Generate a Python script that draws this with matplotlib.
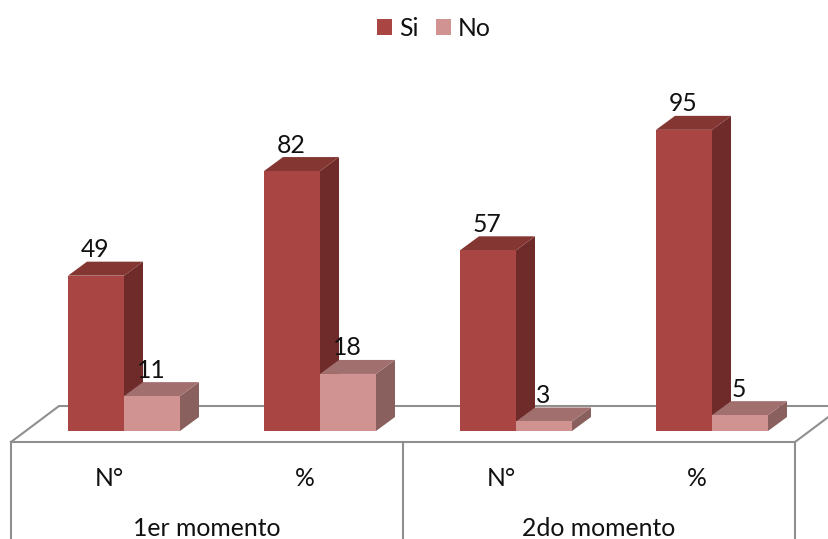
import matplotlib
matplotlib.use("Agg")
import matplotlib.pyplot as plt
from matplotlib.patches import Polygon

# Survey counts and percentages, by moment
moments = ["1er momento", "2do momento"]
categories = ["N°", "%", "N°", "%"]
si_values = [49, 82, 57, 95]
no_values = [11, 18, 3, 5]

plt.rcParams["font.family"] = ["Lato", "DejaVu Sans"]

W, H = 829, 539
PX_PER_UNIT = 3.17
BASE_PX = 431          # pixel row of the zero line
DX = 19                # depth of the box, horizontally
DY = 14 / PX_PER_UNIT  # depth of the box, in value units
BAR_W = 56
SLOT = 196
FIRST_CENTER = 109
GRID = "#8f8f8f"
TEXT = "#111111"
FS = 17.8

SI_COLORS = ("#A94542", "#6E2B29", "#843633")  # front, side, top
NO_COLORS = ("#D09392", "#8A605F", "#A16F6E")


def row(py):
    """Value-axis position of a pixel row."""
    return (BASE_PX - py) / PX_PER_UNIT


fig = plt.figure(figsize=(W / 100, H / 100), dpi=100)
ax = fig.add_axes([0, 0, 1, 1])
ax.set_xlim(0, W)
ax.set_ylim(row(H), row(0))
ax.axis("off")

# Floor outline and category dividers
floor_front, floor_back = row(442), row(406)
left, right = 11, 11 + 4 * SLOT
ax.plot([left, left + 48, right + 48, right, left],
        [floor_front, floor_back, floor_back, floor_front, floor_front],
        color=GRID, lw=1.5, zorder=1, solid_joinstyle="miter")
for x in (left, left + 2 * SLOT, right):
    ax.plot([x, x], [floor_front, row(H)], color=GRID, lw=1.5, zorder=1)


def draw_boxes(lefts, values, colors, label, z):
    front, side, top = colors
    bars = ax.bar(lefts, values, width=BAR_W, align="edge", color=front,
                  linewidth=0, label=label, zorder=z + 0.2)
    for x, v in zip(lefts, values):
        ax.add_patch(Polygon([(x + BAR_W, 0), (x + BAR_W + DX, DY),
                              (x + BAR_W + DX, v + DY), (x + BAR_W, v)],
                             closed=True, facecolor=side, edgecolor="none", zorder=z))
        ax.add_patch(Polygon([(x, v), (x + DX, v + DY),
                              (x + BAR_W + DX, v + DY), (x + BAR_W, v)],
                             closed=True, facecolor=top, edgecolor="none", zorder=z))
        ax.text(x + BAR_W / 2 - 1, v + 2 * DY - 2 / PX_PER_UNIT, f"{v}", ha="center",
                va="center", fontsize=FS, color=TEXT, zorder=10)
    return bars


centers = [FIRST_CENTER + SLOT * i for i in range(len(categories))]
si_lefts = [c + 15 - BAR_W for c in centers]
no_lefts = [c + 15 for c in centers]

draw_boxes(si_lefts, si_values, SI_COLORS, "Si", 2)
draw_boxes(no_lefts, no_values, NO_COLORS, "No", 3)

# Category labels, two levels
for c, name in zip(centers, categories):
    ax.text(c, row(478), name, ha="center", va="center", fontsize=FS, color=TEXT)
for i, name in enumerate(moments):
    ax.text(left + SLOT + 2 * SLOT * i, row(529), name, ha="center", va="center",
            fontsize=FS, color=TEXT)

ax.legend(loc="center", bbox_to_anchor=(434 / W, 1 - 28 / H), ncol=2, frameon=False,
          fontsize=FS, handlelength=0.61, handleheight=0.61, handletextpad=0.28,
          columnspacing=0.69, labelcolor=TEXT, borderpad=0)

fig.savefig("out.png", dpi=100)
